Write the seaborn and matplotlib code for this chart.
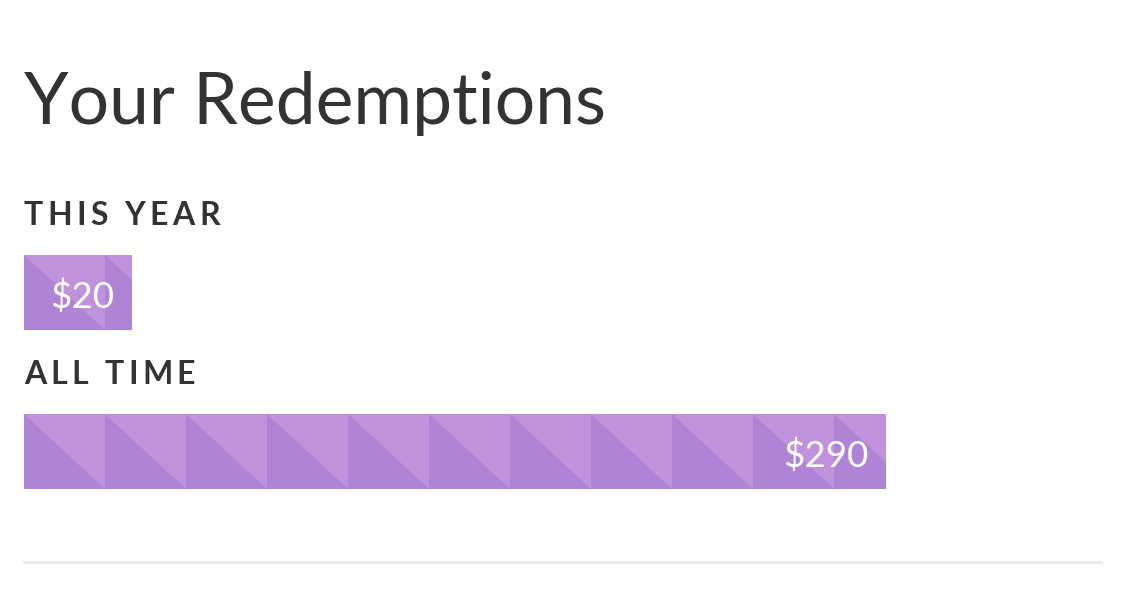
"""Your Redemptions — barras com padrão de ladrilhos."""
import matplotlib
matplotlib.use("Agg")
import matplotlib.pyplot as plt
from matplotlib.patches import Polygon
import pandas as pd
import seaborn as sns

# dados
categorias = ["THIS YEAR", "ALL TIME"]
valores = [20, 290]
rotulos = ["$20", "$290"]
# comprimento exibido de cada barra, em ladrilhos do padrão (não proporcional ao valor)
comprimentos = [1.33, 10.64]

COR_CLARA = "#c092dc"
COR_ESCURA = "#af84d5"
COR_TEXTO = "#333333"

W, H = 1125, 614
fig = plt.figure(figsize=(W / 100, H / 100), dpi=100)
fig.patch.set_facecolor("white")
renderer = fig.canvas.get_renderer()


def texto_espacado(x_px, base_px, texto, espaco_px, **kw):
    """Escreve letra por letra com espaçamento extra (tracking)."""
    x = x_px
    for ch in texto:
        t = fig.text(x / W, 1 - base_px / H, ch, ha="left", va="baseline", **kw)
        larg = t.get_window_extent(renderer).width
        if ch == " ":
            larg = kw["fontsize"] * 100 / 72 * 0.25
        x += larg + espaco_px


# eixo cobre a altura toda; 1 ladrilho = 81 px, 1 categoria = 159 px
x0_px, tile_px, passo_px = 24, 81, 159
ax = fig.add_axes([x0_px / W, 0, 1 - x0_px / W, 1])
ax.set_xlim(0, (W - x0_px) / tile_px)

df = pd.DataFrame({"categoria": categorias, "comprimento": comprimentos,
                   "valor": valores, "rotulo": rotulos})
altura = 75 / passo_px
sns.barplot(data=df, y="categoria", x="comprimento", orient="h",
            color=COR_CLARA, width=altura, saturation=1, ax=ax,
            linewidth=0, order=categorias)
ax.set_ylim((H - 292.5) / passo_px, -292.5 / passo_px)
ax.axis("off")

for barra, (_, linha) in zip(ax.patches, df.iterrows()):
    bx, by = barra.get_x(), barra.get_y()
    bw, bh = barra.get_width(), barra.get_height()
    k = 0
    while k < bw:
        tri = Polygon([(bx + k, by), (bx + k, by + bh), (bx + k + 1, by + bh)],
                      closed=True, facecolor=COR_ESCURA, edgecolor="none")
        ax.add_patch(tri)
        tri.set_clip_path(barra)
        k += 1
    ax.text(bx + bw - 17 / tile_px, by + bh / 2 + 0.025, linha["rotulo"],
            color="white", fontsize=26.5, family="Lato",
            ha="right", va="center")

fig.text(x0_px / W, 1 - 124 / H, "Your Redemptions", color=COR_TEXTO,
         fontsize=51.5, family="Lato", fontweight="normal", ha="left", va="baseline")
for cat, base in zip(categorias, [225, 384]):
    texto_espacado(x0_px, base, cat, 4.3, color=COR_TEXTO, fontsize=23,
                   family="Lato", fontweight="bold")

# linha separadora
fig.add_artist(plt.Line2D([x0_px / W, 1101 / W], [1 - 562 / H, 1 - 562 / H],
                          color="#ebebeb", linewidth=2.2))

fig.savefig("out.png", dpi=100)
